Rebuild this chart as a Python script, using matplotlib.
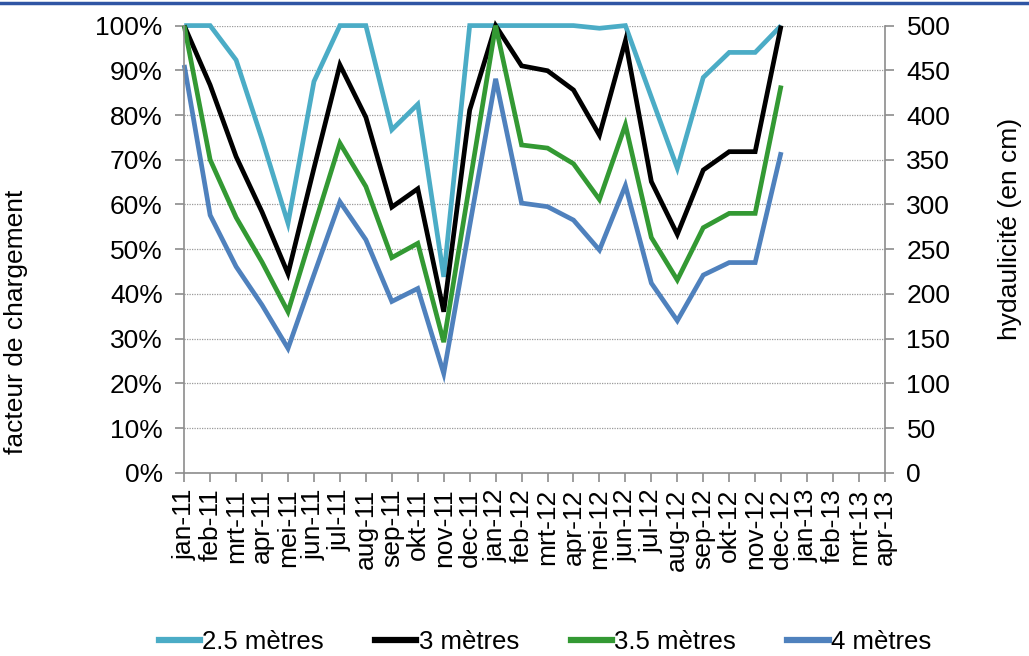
import matplotlib
matplotlib.use("Agg")
import matplotlib.pyplot as plt
from matplotlib.lines import Line2D
from matplotlib.ticker import MultipleLocator, FuncFormatter
import numpy as np

plt.rcParams['font.family'] = ['Liberation Sans', 'DejaVu Sans']

# categories (jan-11 .. apr-13)
mois = ['jan', 'feb', 'mrt', 'apr', 'mei', 'jun', 'jul', 'aug', 'sep', 'okt', 'nov', 'dec']
categories = [m + '-11' for m in mois] + [m + '-12' for m in mois] + [m + '-13' for m in mois[:4]]

# facteur de chargement (%), jan-11 .. dec-12
s_25 = [100, 100, 92.3, 74.6, 55.8, 87.5, 100, 100, 76.7, 82.4, 43.8, 100,
        100, 100, 100, 100, 99.4, 100, 84.0, 68.1, 88.4, 94.0, 94.0, 100]
s_3 = [100, 86.7, 70.7, 58.3, 44.5, 68.1, 91.2, 79.5, 59.4, 63.5, 36.0, 81.1,
       100, 91.0, 89.9, 85.6, 75.5, 96.6, 65.1, 53.3, 67.7, 71.8, 71.8, 100]
s_35 = [100, 70.0, 57.1, 47.1, 36.0, 55.0, 73.7, 64.0, 48.1, 51.3, 29.2, 64.6,
        100, 73.3, 72.6, 69.1, 61.1, 77.8, 52.6, 43.1, 54.8, 58.0, 58.0, 86.6]
s_4 = [91.2, 57.6, 46.1, 37.5, 27.8, 44.3, 60.6, 52.1, 38.3, 41.2, 22.2, 55.2,
       88.1, 60.3, 59.5, 56.5, 49.8, 64.2, 42.4, 34.0, 44.2, 47.0, 47.0, 71.7]

series = [
    ('2.5 mètres', s_25, '#4BACC6'),
    ('3 mètres', s_3, '#000000'),
    ('3.5 mètres', s_35, '#339933'),
    ('4 mètres', s_4, '#4F81BD'),
]

fs = 19

fig = plt.figure(figsize=(10.29, 6.56), dpi=100)
ax = fig.add_axes([0.179, 0.2794, 0.681, 0.6816])

x = np.arange(len(s_25))
for lab, vals, col in series:
    ax.plot(x, vals, color=col, lw=3.4, label=lab, clip_on=False,
            solid_joinstyle='miter', solid_capstyle='butt')

ax.set_xlim(0, len(categories) - 1)
ax.set_ylim(0, 100)
ax.yaxis.set_major_locator(MultipleLocator(10))
ax.yaxis.set_major_formatter(FuncFormatter(lambda v, p: '%d%%' % v))
ax.set_xticks(np.arange(len(categories)))
ax.set_xticklabels(categories, rotation=90)
ax.grid(axis='y', color='#9a9a9a', ls=(0, (1, 1)), lw=0.9)
ax.set_axisbelow(True)

for s in ['left', 'bottom', 'right']:
    ax.spines[s].set_color('#8c8c8c')
    ax.spines[s].set_linewidth(1.2)
ax.spines['top'].set_visible(False)
ax.tick_params(axis='both', colors='#8c8c8c', labelcolor='black', labelsize=fs,
               length=6.5, width=1.2, direction='out')
ax.tick_params(axis='y', pad=9)
ax.tick_params(axis='x', pad=5)

ax.set_ylabel('facteur de chargement', fontsize=fs)
ax.yaxis.set_label_coords(-0.2225, 0.337)

ax2 = ax.twinx()
ax2.set_ylim(0, 500)
ax2.yaxis.set_major_locator(MultipleLocator(50))
for s in ['left', 'bottom', 'top', 'right']:
    ax2.spines[s].set_visible(False)
ax2.tick_params(axis='y', colors='#8c8c8c', labelcolor='black', labelsize=fs,
                length=6.5, width=1.2, direction='out', pad=9)
ax2.set_ylabel('hydaulicité (en cm)', fontsize=fs)
ax2.yaxis.set_label_coords(1.162, 0.545)

handles = [Line2D([0], [0], color=c, lw=4.5) for _, _, c in series]
fig.legend(handles, [l for l, _, _ in series], loc='center', ncol=4,
           bbox_to_anchor=(545 / 1029, 1 - 642 / 656), frameon=False,
           fontsize=18.5, handlelength=1.6, handletextpad=0.1, columnspacing=2.0)

# blue rule at the top of the slide
fig.add_artist(Line2D([0, 1], [1 - 3 / 656, 1 - 3 / 656], color='#2F55A4', lw=2.5,
                      transform=fig.transFigure))

fig.savefig('out.png', dpi=100)
